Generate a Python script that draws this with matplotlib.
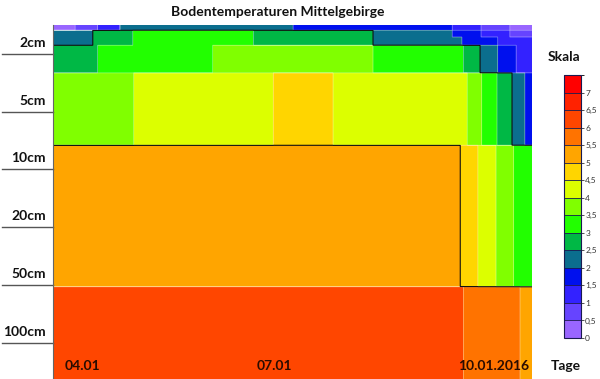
import numpy as np
import matplotlib
matplotlib.use('Agg')
from matplotlib import pyplot as plt
from matplotlib.colors import ListedColormap, BoundaryNorm
from matplotlib.transforms import blended_transform_factory

plt.rcParams['font.family'] = ['Lato', 'DejaVu Sans']

# temperature classes (degC) and their colours
levels = np.arange(0, 7.51, 0.5)
colors = ['#9966ff', '#6644ff', '#3322ff', '#0010ee', '#0b6e8e', '#00b845',
          '#22ff00', '#80ff00', '#dcff00', '#ffd500', '#ffa500', '#ff7300',
          '#ff4600', '#ff2200', '#ff0000']

depth_labels = ['2cm', '5cm', '10cm', '20cm', '50cm', '100cm']
day_labels = ['04.01', '07.01', '10.01.2016']

# layer edges (depth rows, top -> bottom)
layer_edges = [0, 0.09, 0.21, 0.35, 0.83, 2.08, 4.53, 6.13]

# per layer: end of each time segment (days since 04.01) and its class value
seg_ends = [
    [0.28, 0.56, 0.84, 3.01, 5.00, 5.36, 5.72, 6.00],
    [0.50, 1.00, 2.51, 4.01, 5.00, 5.36, 5.72, 6.00],
    [0.50, 1.00, 2.51, 4.01, 5.12, 5.57, 6.00],
    [0.56, 2.00, 4.01, 5.14, 5.35, 5.57, 5.80, 6.00],
    [1.01, 2.76, 3.51, 5.19, 5.37, 5.56, 5.75, 5.91, 6.00],
    [5.10, 5.32, 5.55, 5.77, 6.00],
    [5.14, 5.85, 6.00],
]
seg_vals = [
    [0.25, 0.75, 1.25, 2.25, 1.75, 1.25, 0.75, 0.25],
    [2.25, 2.75, 3.25, 2.75, 2.25, 1.75, 1.25, 0.75],
    [2.25, 2.75, 3.25, 2.75, 2.25, 1.75, 1.25],
    [2.75, 3.25, 3.75, 3.25, 2.75, 2.25, 1.75, 1.25],
    [3.75, 4.25, 4.75, 4.25, 3.75, 3.25, 2.75, 2.25, 1.75],
    [5.25, 4.75, 4.25, 3.75, 3.25],
    [6.25, 5.75, 5.25],
]

# build grid
xs = np.unique(np.concatenate([[0.0]] + [np.array(e) for e in seg_ends]))
mids = (xs[:-1] + xs[1:]) / 2
Z = np.zeros((len(layer_edges) - 1, len(mids)))
for i in range(len(seg_ends)):
    idx = np.searchsorted(seg_ends[i], mids)
    Z[i] = np.array(seg_vals[i])[idx]

cmap = ListedColormap(colors)
norm = BoundaryNorm(levels, cmap.N)

fig = plt.figure(figsize=(6, 3.79), dpi=100)
ax = fig.add_axes([53/600, 0, 479/600, 354/379])
mesh = ax.pcolormesh(xs, layer_edges, Z, cmap=cmap, norm=norm, shading='flat')

# contour lines on a fine grid
xf = np.linspace(0, 6, 1500)
yf = np.linspace(0, 6.13, 900)
ci = np.clip(np.searchsorted(xs, xf, side='right') - 1, 0, len(mids) - 1)
ri = np.clip(np.searchsorted(layer_edges, yf, side='right') - 1, 0, Z.shape[0] - 1)
Zf = Z[ri][:, ci]
ax.contour(xf, yf, Zf, levels=[0.5, 1, 1.5, 2, 3, 3.5, 4, 4.5, 5.5, 6, 6.5, 7],
           colors='white', linewidths=0.6, alpha=0.4)
ax.contour(xf, yf, Zf, levels=[2.5, 5.0], colors='#111111', linewidths=0.8)

ax.set_xlim(0, 6)
ax.set_ylim(6.13, 0)
ax.set_xticks([])
ax.set_yticks([])
for s in ['top', 'right', 'bottom']:
    ax.spines[s].set_visible(False)
ax.spines['left'].set_color('#666666')

# depth labels with lines in the left margin
tr = blended_transform_factory(fig.transFigure, ax.transData)
for k, lab in enumerate(depth_labels):
    ax.plot([0.004, 53/600], [k + 0.5, k + 0.5], color='#555555', lw=1,
            transform=tr, clip_on=False)
    ax.text(46/600, k + 0.31, lab, transform=tr, ha='right', va='center',
            fontsize=10, fontweight='bold', color='#111111')

# day labels inside the plot
ax.text(0.14, 5.9, day_labels[0], ha='left', va='center', fontsize=10,
        fontweight='bold', color='#2a0c00')
ax.text(3.0, 5.9, day_labels[1], ha='right', va='center', fontsize=10,
        fontweight='bold', color='#2a0c00')
ax.text(5.97, 5.9, day_labels[2], ha='right', va='center', fontsize=10,
        fontweight='bold', color='#2a0c00')

fig.text(278/600, 1 - 12/379, 'Bodentemperaturen Mittelgebirge', ha='center',
         va='center', fontsize=10, fontweight='bold', color='#111111')
fig.text(564/600, 1 - 57/379, 'Skala', ha='center', va='center', fontsize=10,
         fontweight='bold', color='#111111')
fig.text(566/600, 1 - 366/379, 'Tage', ha='center', va='center', fontsize=10,
         fontweight='bold', color='#111111')

# colour scale
cax = fig.add_axes([564/600, 1 - 338/379, 17/600, 263/379])
cb = fig.colorbar(mesh, cax=cax, ticks=np.arange(0, 7.01, 0.5), drawedges=True)
cb.ax.set_yticklabels([('%g' % t).replace('.', ',') for t in np.arange(0, 7.01, 0.5)])
cb.ax.tick_params(labelsize=6, length=2, width=0.6, pad=1, colors='#333333')
cb.outline.set_edgecolor('#1a1a50')
cb.outline.set_linewidth(0.8)
cb.dividers.set_color('#1a1a50')
cb.dividers.set_linewidth(0.6)

fig.savefig('out.png', dpi=100)
